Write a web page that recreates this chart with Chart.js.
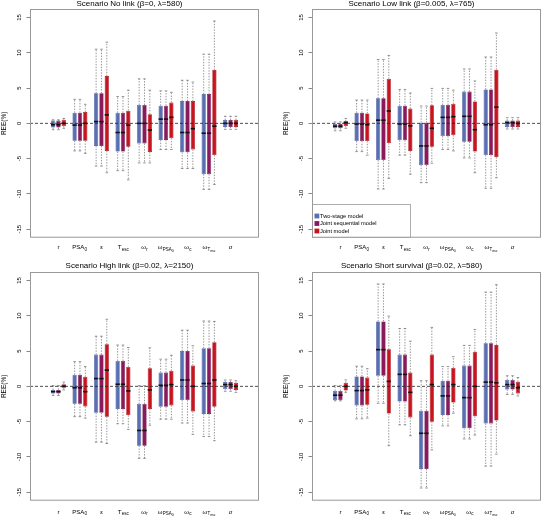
<!DOCTYPE html>
<html><head><meta charset="utf-8">
<script src="https://cdn.jsdelivr.net/npm/chart.js@4.4.1/dist/chart.umd.min.js"></script>
<style>
html,body{margin:0;padding:0;background:#fff;}
body{width:542px;height:517px;position:relative;overflow:hidden;}
canvas{position:absolute;display:block;}
</style></head><body>
<canvas id="c1" width="260" height="258" style="left:0;top:0;width:260px;height:258px"></canvas>
<canvas id="c2" width="260" height="258" style="left:282px;top:0;width:260px;height:258px"></canvas>
<canvas id="c3" width="260" height="259" style="left:0;top:258px;width:260px;height:259px"></canvas>
<canvas id="c4" width="260" height="259" style="left:282px;top:258px;width:260px;height:259px"></canvas>
<script>
// ---------- categories / tick labels ----------
const paramBase   = ['r', 'PSA', 'ε', 'T', 'ω', 'ω', 'ω', 'ω', 'σ'];
const paramSub    = ['', '0', '', 'esc', 'r', 'PSA', 'c', 'T', ''];
const paramSubSub = ['', '', '', '', '', '0', '', 'esc', ''];
const categoryPos = [1, 2, 3, 4, 5, 6, 7, 8, 9];
const yTicks = [-15, -10, -5, 0, 5, 10, 15];
const modelNames = ['Two-stage model', 'Joint sequential model', 'Joint model'];
const panelTitles = [
  'Scenario No link (β=0, λ=580)',
  'Scenario Low link (β=0.005, λ=765)',
  'Scenario High link (β=0.02, λ=2150)',
  'Scenario Short survival (β=0.02, λ=580)'
];

// ---------- data: each entry [min, q1, median, q3, max] ----------
const noLinkTwoStage = [
  [-0.9, -0.6, -0.2, 0.4, 0.5],
  [-3.9, -2.45, -0.25, 1.5, 3.4],
  [-6.05, -3.2, 0.25, 4.25, 10.5],
  [-6.7, -4.0, -1.3, 1.5, 3.8],
  [-5.6, -2.85, 0.0, 2.6, 6.3],
  [-3.7, -2.35, 0.6, 2.5, 4.6],
  [-6.4, -4.1, -1.3, 3.15, 6.1],
  [-9.35, -7.2, -1.4, 4.15, 9.8],
  [-0.85, -0.5, 0.0, 0.47, 1.0]
];
const noLinkSequential = [
  [-0.9, -0.6, -0.2, 0.4, 0.5],
  [-3.9, -2.45, -0.25, 1.5, 3.4],
  [-6.05, -3.2, 0.25, 4.25, 10.5],
  [-6.7, -4.0, -1.3, 1.5, 3.8],
  [-5.6, -2.85, 0.0, 2.6, 6.3],
  [-3.7, -2.35, 0.6, 2.5, 4.6],
  [-6.4, -4.1, -1.3, 3.15, 6.1],
  [-9.35, -7.2, -1.4, 4.15, 9.8],
  [-0.85, -0.5, 0.0, 0.47, 1.0]
];
const noLinkJoint = [
  [-0.7, -0.4, 0.0, 0.5, 0.7],
  [-4.25, -2.45, 0.0, 1.6, 2.7],
  [-7.0, -3.9, 1.2, 6.7, 11.5],
  [-8.0, -3.3, -0.25, 1.8, 4.7],
  [-5.6, -4.05, -0.95, 1.3, 4.7],
  [-3.7, -2.1, 0.85, 2.95, 4.4],
  [-6.4, -3.7, -0.75, 3.15, 5.85],
  [-8.65, -4.5, -0.4, 7.55, 14.5],
  [-0.85, -0.5, 0.0, 0.5, 1.0]
];

const lowLinkTwoStage = [
  [-1.05, -0.7, -0.4, -0.1, 0.2],
  [-4.0, -2.5, -0.1, 1.5, 3.3],
  [-9.3, -5.2, 0.45, 3.55, 9.05],
  [-4.5, -2.4, -0.1, 2.5, 4.8],
  [-8.4, -5.9, -3.2, 0.1, 2.45],
  [-3.7, -1.8, 0.85, 2.6, 4.95],
  [-4.9, -2.6, 1.0, 4.5, 7.7],
  [-9.2, -4.5, -0.2, 4.8, 9.4],
  [-0.8, -0.5, 0.1, 0.4, 0.8]
];
const lowLinkSequential = [
  [-1.05, -0.7, -0.4, -0.1, 0.2],
  [-4.0, -2.5, -0.1, 1.5, 3.3],
  [-9.3, -5.2, 0.45, 3.55, 9.05],
  [-4.5, -2.4, -0.1, 2.5, 4.8],
  [-8.4, -5.9, -3.2, 0.1, 2.45],
  [-3.7, -1.8, 0.85, 2.6, 4.95],
  [-4.9, -2.6, 1.0, 4.5, 7.7],
  [-9.2, -4.5, -0.2, 4.8, 9.4],
  [-0.8, -0.5, 0.1, 0.4, 0.8]
];
const lowLinkJoint = [
  [-0.7, -0.38, 0.1, 0.33, 0.7],
  [-4.5, -2.5, -0.2, 1.4, 3.3],
  [-7.8, -2.8, 1.75, 6.3, 9.6],
  [-7.2, -3.9, -0.35, 2.1, 4.3],
  [-5.65, -3.3, -0.7, 2.55, 4.95],
  [-3.9, -1.65, 0.95, 2.75, 4.7],
  [-7.0, -4.0, -0.9, 3.1, 6.0],
  [-7.7, -4.8, 2.3, 7.6, 12.8],
  [-0.8, -0.5, 0.0, 0.4, 0.8]
];

const highLinkTwoStage = [
  [-1.3, -1.0, -0.75, -0.5, 0.1],
  [-4.3, -2.45, -0.2, 1.65, 3.5],
  [-7.9, -3.75, 1.1, 4.5, 7.1],
  [-5.3, -3.2, 0.3, 3.6, 5.85],
  [-10.2, -8.4, -6.25, -2.5, 0.1],
  [-4.65, -2.9, 0.15, 1.95, 3.85],
  [-5.2, -1.95, 0.9, 5.0, 7.95],
  [-7.1, -3.9, 0.4, 5.4, 9.25],
  [-0.7, -0.38, 0.25, 0.6, 0.9]
];
const highLinkSequential = [
  [-1.3, -1.0, -0.75, -0.5, 0.1],
  [-4.3, -2.45, -0.2, 1.65, 3.5],
  [-7.9, -3.75, 1.1, 4.5, 7.1],
  [-5.3, -3.2, 0.3, 3.6, 5.85],
  [-10.2, -8.4, -6.25, -2.5, 0.1],
  [-4.65, -2.9, 0.15, 1.95, 3.85],
  [-5.2, -1.95, 0.9, 5.0, 7.95],
  [-7.1, -3.9, 0.4, 5.4, 9.25],
  [-0.7, -0.38, 0.25, 0.6, 0.9]
];
const highLinkJoint = [
  [-0.5, -0.2, 0.0, 0.3, 0.6],
  [-4.5, -2.85, -0.75, 1.35, 2.8],
  [-8.1, -4.3, 2.3, 5.95, 9.5],
  [-6.1, -4.1, -0.65, 2.75, 5.5],
  [-5.5, -3.2, -0.5, 2.55, 5.45],
  [-4.65, -2.7, 0.25, 2.2, 4.4],
  [-6.8, -3.55, 0.0, 2.95, 5.75],
  [-7.7, -2.9, 0.9, 6.25, 9.2],
  [-0.85, -0.5, 0.0, 0.5, 0.8]
];

const shortSurvTwoStage = [
  [-2.05, -1.95, -1.25, -0.65, 0.1],
  [-4.6, -2.7, -0.6, 1.4, 2.85],
  [-2.4, 1.5, 5.2, 9.2, 14.5],
  [-5.45, -2.15, 1.7, 4.5, 8.2],
  [-14.4, -11.7, -6.65, -3.45, 0.8],
  [-5.6, -4.05, -1.35, 0.8, 2.8],
  [-7.45, -5.95, -1.6, 2.95, 5.8],
  [-11.3, -5.25, 0.6, 6.1, 13.35],
  [-1.15, -0.45, 0.25, 0.9, 1.5]
];
const shortSurvSequential = [
  [-2.05, -1.95, -1.25, -0.65, 0.1],
  [-4.6, -2.7, -0.6, 1.4, 2.85],
  [-2.4, 1.5, 5.2, 9.2, 14.5],
  [-5.45, -2.15, 1.7, 4.5, 8.2],
  [-14.4, -11.7, -6.65, -3.45, 0.8],
  [-5.6, -4.05, -1.35, 0.8, 2.8],
  [-7.45, -5.95, -1.6, 2.95, 5.8],
  [-11.3, -5.25, 0.6, 6.1, 13.35],
  [-1.15, -0.45, 0.25, 0.9, 1.5]
];
const shortSurvJoint = [
  [-0.85, -0.6, 0.0, 0.5, 0.9],
  [-4.5, -2.6, -0.5, 1.25, 2.5],
  [-8.4, -3.85, 0.7, 5.25, 9.95],
  [-7.0, -4.4, -0.85, 1.95, 6.4],
  [-9.0, -5.0, 0.25, 4.5, 8.35],
  [-3.8, -2.3, 0.25, 2.6, 4.2],
  [-6.9, -4.25, 0.0, 4.9, 8.05],
  [-9.6, -4.85, 0.5, 5.85, 14.4],
  [-1.35, -1.0, -0.2, 0.65, 1.25]
];

// ---------- styling ----------
const FONT = '"Liberation Sans", Arial, sans-serif';
const fillColors   = ['#5a6eb4', '#8b1a5c', '#c8141e'];
const borderColors = ['#42559a', '#6c0f45', '#a00c14'];

// measurement helper for subscript spacing
const mctx = document.createElement('canvas').getContext('2d');
function tw(text, size) { mctx.font = size + 'px ' + FONT; return mctx.measureText(text).width; }
const TICK_SIZE = 6, SUB_SIZE = 4.5, SUBSUB_SIZE = 3.5;
function subWidth(i) { return tw(paramSub[i], SUB_SIZE) + tw(paramSubSub[i], SUBSUB_SIZE); }
function tickText(i) {
  const sw = subWidth(i);
  const n = sw > 0 ? Math.round(sw / tw(' ', TICK_SIZE)) : 0;
  return paramBase[i] + ' '.repeat(n);
}

// whiskers, medians, zero line and frame
const boxExtras = {
  id: 'boxExtras',
  afterDatasetsDraw(chart) {
    const {ctx, chartArea: a} = chart;
    const y = chart.scales.y;
    ctx.save();
    const seg = (x1, y1, x2, y2) => { ctx.beginPath(); ctx.moveTo(x1, y1); ctx.lineTo(x2, y2); ctx.stroke(); };
    chart.data.datasets.forEach((ds, di) => {
      const meta = chart.getDatasetMeta(di);
      meta.data.forEach((bar, i) => {
        const s = ds.stats[i];
        const p = bar.getProps(['x', 'width'], true);
        const x = p.x, w = p.width;
        const yMin = y.getPixelForValue(s[0]), yQ1 = y.getPixelForValue(s[1]);
        const yMed = y.getPixelForValue(s[2]), yQ3 = y.getPixelForValue(s[3]);
        const yMax = y.getPixelForValue(s[4]);
        ctx.strokeStyle = '#666';
        ctx.lineWidth = 0.7;
        ctx.setLineDash([1.4, 1.4]);
        seg(x, yQ3, x, yMax);
        seg(x, yQ1, x, yMin);
        ctx.setLineDash([]);
        ctx.lineWidth = 0.7;
        seg(x - w * 0.3, yMax, x + w * 0.3, yMax);
        seg(x - w * 0.3, yMin, x + w * 0.3, yMin);
        ctx.strokeStyle = '#111';
        ctx.lineWidth = 1.6;
        seg(x - w / 2, yMed, x + w / 2, yMed);
      });
    });
    const y0 = y.getPixelForValue(0);
    ctx.strokeStyle = '#222';
    ctx.lineWidth = 0.8;
    ctx.setLineDash([3, 2]);
    seg(a.left, y0, a.right, y0);
    ctx.setLineDash([]);
    ctx.strokeStyle = '#999';
    ctx.lineWidth = 1;
    ctx.strokeRect(a.left + 0.5, a.top + 0.5, a.width - 1, a.height - 1);
    ctx.restore();
  },
  afterDraw(chart) {
    // subscripts of tick labels
    const {ctx} = chart;
    const xs = chart.scales.x;
    const yc = xs.top + xs.options.ticks.padding + TICK_SIZE * 1.2 / 2;
    ctx.save();
    ctx.fillStyle = '#000';
    ctx.textBaseline = 'middle';
    ctx.textAlign = 'left';
    xs.ticks.forEach((t, k) => {
      const i = Math.round(t.value) - 1;
      if (!paramSub[i]) return;
      const x = xs.getPixelForValue(t.value);
      ctx.font = TICK_SIZE + 'px ' + FONT;
      const full = ctx.measureText(tickText(i)).width;
      const baseW = ctx.measureText(paramBase[i]).width;
      let sx = x - full / 2 + baseW + 0.2;
      ctx.font = SUB_SIZE + 'px ' + FONT;
      ctx.fillText(paramSub[i], sx, yc + 1.8);
      sx += ctx.measureText(paramSub[i]).width;
      if (paramSubSub[i]) {
        ctx.font = SUBSUB_SIZE + 'px ' + FONT;
        ctx.fillText(paramSubSub[i], sx, yc + 3.0);
      }
    });
    ctx.restore();
  }
};

const boxLegend = {
  id: 'boxLegend',
  afterDraw(chart, args, opts) {
    if (!opts.show) return;
    const {ctx, chartArea: a} = chart;
    const bh = 33.7, bw = 98;
    const bx = a.left, by = a.bottom - bh;
    ctx.save();
    ctx.fillStyle = '#fff';
    ctx.fillRect(bx + 1, by, bw, bh - 1);
    ctx.strokeStyle = '#999';
    ctx.lineWidth = 0.8;
    ctx.strokeRect(bx + 0.5, by + 0.5, bw, bh - 1);
    ctx.font = '5.7px ' + FONT;
    ctx.textBaseline = 'middle';
    ctx.textAlign = 'left';
    chart.data.datasets.forEach((ds, i) => {
      const cy = by + 12 + i * 7.5;
      ctx.fillStyle = ds.backgroundColor;
      ctx.fillRect(bx + 2.5, cy - 2.4, 4.8, 4.8);
      ctx.fillStyle = '#000';
      ctx.fillText(ds.label, bx + 8, cy);
    });
    ctx.restore();
  }
};

function makePanel(id, title, series, opt) {
  const datasets = series.map((stats, k) => ({
    label: modelNames[k],
    data: categoryPos.map((c, i) => ({x: c, y: [stats[i][1], stats[i][3]]})),
    stats: stats,
    backgroundColor: fillColors[k],
    borderColor: borderColors[k],
    borderWidth: 0.6,
    borderSkipped: false,
    categoryPercentage: 0.744,
    barPercentage: 0.8
  }));
  new Chart(document.getElementById(id), {
    type: 'bar',
    data: {datasets},
    plugins: [boxExtras, boxLegend],
    options: {
      responsive: false,
      animation: false,
      layout: {padding: {left: 0, right: 1, top: 0, bottom: 0}},
      plugins: {
        legend: {display: false},
        tooltip: {enabled: false},
        boxLegend: {show: !!opt.legend},
        title: {
          display: true, text: title, color: '#000',
          font: {family: FONT, size: 8, weight: 'normal', lineHeight: 1},
          padding: opt.titlePad
        }
      },
      scales: {
        x: {
          type: 'linear', min: 0.27, max: 9.73,
          afterBuildTicks: s => { s.ticks = categoryPos.map(v => ({value: v})); },
          afterFit: s => { s.height = opt.xHeight; },
          grid: {display: false, drawTicks: false},
          border: {display: false},
          ticks: {
            autoSkip: false, maxRotation: 0, minRotation: 0,
            padding: opt.xPad, color: '#000',
            font: {family: FONT, size: TICK_SIZE},
            callback: v => tickText(Math.round(v) - 1)
          }
        },
        y: {
          min: -16.2, max: 16.2,
          afterBuildTicks: s => { s.ticks = yTicks.map(v => ({value: v})); },
          afterFit: s => { s.width = 30; },
          grid: {display: true, drawOnChartArea: false, drawTicks: true, tickLength: 3.5, color: '#555', lineWidth: 0.7},
          border: {display: false},
          ticks: {
            minRotation: 90, maxRotation: 90, crossAlign: 'center',
            padding: 2.5, color: '#000',
            font: {family: FONT, size: TICK_SIZE},
            callback: v => String(v)
          },
          title: {
            display: true, text: 'REE(%)', color: '#000',
            font: {family: FONT, size: 6.5}, padding: {top: 0.5, bottom: 0}
          }
        }
      }
    }
  });
}

makePanel('c1', panelTitles[0], [noLinkTwoStage, noLinkSequential, noLinkJoint],
  {titlePad: {top: 0, bottom: 1}, xHeight: 20.3, xPad: 6.4});
makePanel('c2', panelTitles[1], [lowLinkTwoStage, lowLinkSequential, lowLinkJoint],
  {titlePad: {top: 0, bottom: 1}, xHeight: 20.3, xPad: 6.4, legend: true});
makePanel('c3', panelTitles[2], [highLinkTwoStage, highLinkSequential, highLinkJoint],
  {titlePad: {top: 3.3, bottom: 2.7}, xHeight: 16.3, xPad: 7.7});
makePanel('c4', panelTitles[3], [shortSurvTwoStage, shortSurvSequential, shortSurvJoint],
  {titlePad: {top: 3.3, bottom: 2.7}, xHeight: 16.3, xPad: 7.7});
</script>
</body></html>
